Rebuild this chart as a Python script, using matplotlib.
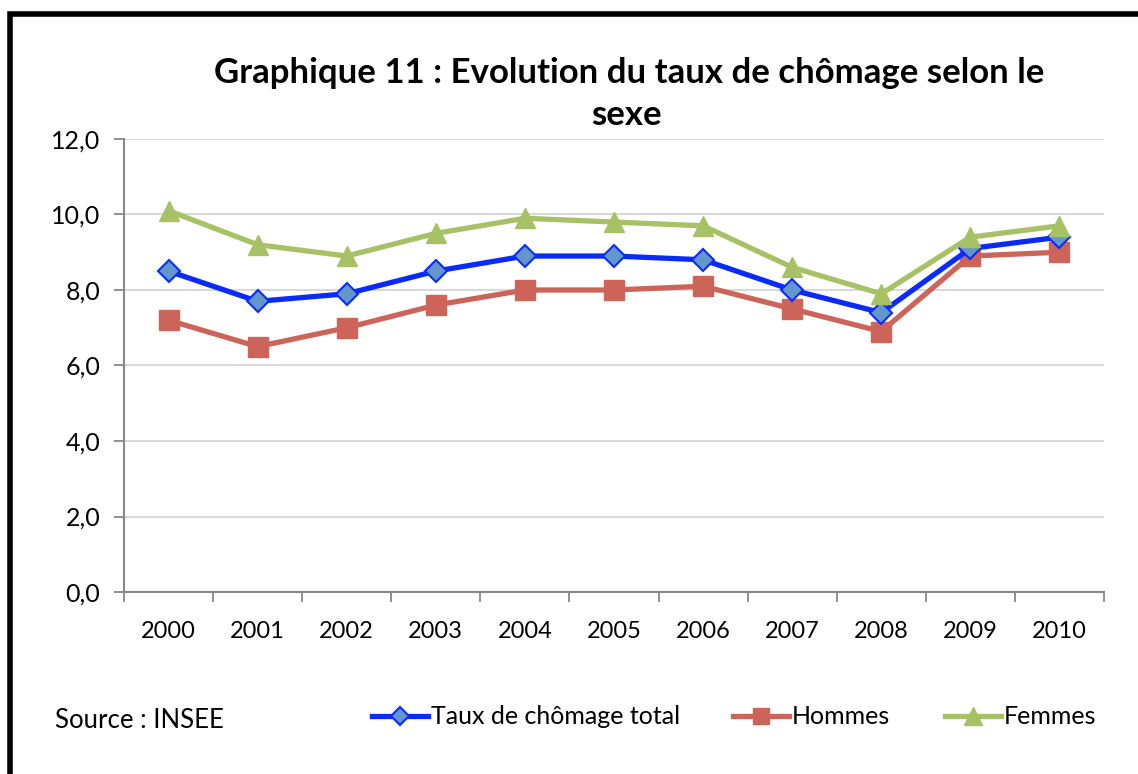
import matplotlib
matplotlib.use("Agg")
import matplotlib.pyplot as plt
from matplotlib.patches import Rectangle
import numpy as np

years = ["2000", "2001", "2002", "2003", "2004", "2005", "2006", "2007", "2008", "2009", "2010"]
total = [8.5, 7.7, 7.9, 8.5, 8.9, 8.9, 8.8, 8.0, 7.4, 9.1, 9.4]
hommes = [7.2, 6.5, 7.0, 7.6, 8.0, 8.0, 8.1, 7.5, 6.9, 8.9, 9.0]
femmes = [10.1, 9.2, 8.9, 9.5, 9.9, 9.8, 9.7, 8.6, 7.9, 9.4, 9.7]
yticks = [0, 2, 4, 6, 8, 10, 12]

plt.rcParams['font.family'] = ['Lato', 'DejaVu Sans']

W, H = 1138, 774
fig = plt.figure(figsize=(W/100, H/100), dpi=100)
fig.patch.set_facecolor('white')

# outer frame (extends beyond right and bottom edges)
fig.add_artist(Rectangle((9.5/W, -0.1), 1.2, 1 - 14/H + 0.1, transform=fig.transFigure,
                         fill=False, edgecolor='black', linewidth=4))

ax = fig.add_axes([124/W, 1 - 592/H, (1104-124)/W, (592-139)/H])
x = np.arange(len(years))

l1, = ax.plot(x, total, color='#0A2BFF', lw=3.8, marker='D', markersize=11,
              markerfacecolor='#6397CC', markeredgecolor='#0A2BFF', markeredgewidth=1.5,
              label='Taux de chômage total', zorder=4)
l2, = ax.plot(x, hommes, color='#CD645A', lw=3.8, marker='s', markersize=14,
              markerfacecolor='#CD645A', markeredgecolor='#CD645A',
              label='Hommes', zorder=3)
l3, = ax.plot(x, femmes, color='#A6C264', lw=3.8, marker='^', markersize=15,
              markerfacecolor='#A6C264', markeredgecolor='#A6C264',
              label='Femmes', zorder=5)

ax.set_xlim(-0.5, len(years) - 0.5)
ax.set_ylim(0, 12)
ax.set_yticks(yticks)
ax.set_yticklabels([f"{v:.1f}".replace('.', ',') for v in yticks], fontsize=18)
ax.set_xticks(x)
ax.set_xticklabels(years, fontsize=17)
ax.set_xticks(np.arange(-0.5, len(years)), minor=True)
ax.tick_params(axis='x', which='major', length=0, pad=21)
ax.tick_params(axis='x', which='minor', length=7, color='#888888', width=1.3)
ax.tick_params(axis='y', length=7, color='#888888', width=1.3, pad=10)

ax.grid(axis='y', color='#D9D9D9', lw=1.5)
ax.set_axisbelow(True)
for s in ['top', 'right']:
    ax.spines[s].set_visible(False)
for s in ['left', 'bottom']:
    ax.spines[s].set_color('#888888')
    ax.spines[s].set_linewidth(1.5)

fig.text(629/W, 1 - 73/H, "Graphique 11 : Evolution du taux de chômage selon le",
         ha='center', va='center', fontsize=25, fontweight='bold')
fig.text(626/W, 1 - 115/H, "sexe", ha='center', va='center', fontsize=25, fontweight='bold')

fig.text(55/W, 1 - 720/H, "Source : INSEE", ha='left', va='center', fontsize=18.5)

for h, xl in [(l1, 372), (l2, 733), (l3, 945)]:
    fig.legend(handles=[h], loc='center left', bbox_to_anchor=(xl/W, 1 - 717/H),
               frameon=False, fontsize=18, handlelength=2.25, handletextpad=0.12,
               borderpad=0, borderaxespad=0, markerscale=0.85)

fig.savefig("out.png", dpi=100, facecolor='white')
